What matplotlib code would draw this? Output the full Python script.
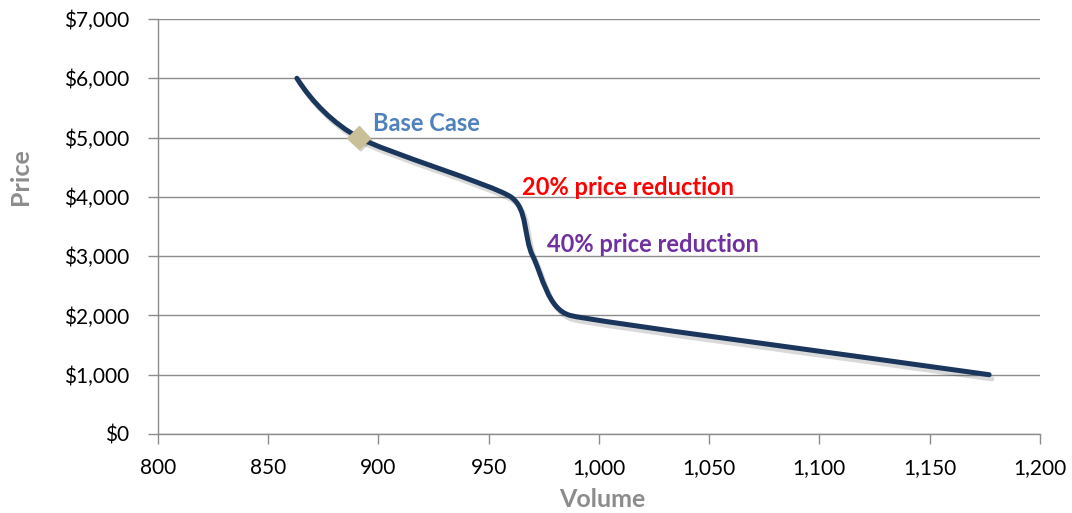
import matplotlib
matplotlib.use("Agg")
import matplotlib.pyplot as plt
import matplotlib.patheffects as pe
from matplotlib.path import Path
from matplotlib.patches import PathPatch
from matplotlib.ticker import FuncFormatter
import numpy as np

volume = [863, 891, 960, 970, 987, 1177]
price = [6000, 5000, 4000, 3000, 2000, 1000]
base_case = (891, 5000)
x_ticks = [800, 850, 900, 950, 1000, 1050, 1100, 1150, 1200]
y_ticks = [0, 1000, 2000, 3000, 4000, 5000, 6000, 7000]

plt.rcParams['font.family'] = ['Lato', 'DejaVu Sans']

fig = plt.figure(figsize=(10.72, 5.13), dpi=100)
ax = fig.add_axes([0.1474, 0.154, 0.8226, 0.809])

ax.set_xlim(800, 1200)
ax.set_ylim(0, 7000)
ax.set_xticks(x_ticks)
ax.set_yticks(y_ticks)
ax.xaxis.set_major_formatter(FuncFormatter(lambda v, p: f"{int(v):,}"))
ax.yaxis.set_major_formatter(FuncFormatter(lambda v, p: f"${int(v):,}"))
ax.grid(axis='y', color='#8c8c8c', linewidth=1.0)
ax.set_axisbelow(True)
for s in ['top', 'right']:
    ax.spines[s].set_visible(False)
for s in ['left', 'bottom']:
    ax.spines[s].set_color('#8c8c8c')
    ax.spines[s].set_linewidth(1.0)
ax.tick_params(axis='both', colors='#8c8c8c', length=7, width=1.0,
               labelcolor='black', labelsize=15)
ax.tick_params(axis='y', pad=14)
ax.tick_params(axis='x', pad=10)

# Smoothed line (Excel-like smoothing, computed in display-scaled space)
sx, sy = 2.205, 0.0593
P = np.column_stack([np.array(volume) * sx, np.array(price) * sy]).astype(float)
n = len(P)
seg = [np.linalg.norm(P[i + 1] - P[i]) for i in range(n - 1)]

def unit(v):
    return v / np.linalg.norm(v)

D = [None] * n
M = [0.0] * n
for i in range(1, n - 1):
    D[i] = unit(P[i + 1] - P[i - 1])
    M[i] = min(seg[i - 1], seg[i]) / 3.0
D[0] = unit(2 * unit(P[1] - P[0]) - D[1])
M[0] = seg[0] / 3.0
D[-1] = unit(P[-1] - P[-2])
M[-1] = seg[-1] / 3.0

verts = [tuple(P[0])]
codes = [Path.MOVETO]
for i in range(n - 1):
    L = seg[i]
    c1 = P[i] + D[i] * min(M[i], L / 2.0)
    c2 = P[i + 1] - D[i + 1] * min(M[i + 1], L / 2.0)
    verts += [tuple(c1), tuple(c2), tuple(P[i + 1])]
    codes += [Path.CURVE4] * 3
verts = [(vx / sx, vy / sy) for vx, vy in verts]
path = Path(verts, codes)
patch = PathPatch(path, facecolor='none', edgecolor='#1a365d', linewidth=3.6,
                  capstyle='round', joinstyle='round', zorder=3,
                  path_effects=[pe.SimpleLineShadow(offset=(2, -3), alpha=0.15, shadow_color='black'),
                                pe.Normal()])
ax.add_patch(patch)

ax.plot([base_case[0]], [base_case[1]], marker='D', markersize=12,
        color='#c9bf98', markeredgecolor='#c9bf98', zorder=4, linestyle='none',
        path_effects=[pe.SimplePatchShadow(offset=(2, -2), alpha=0.2), pe.Normal()])

ax.text(897.5, 5245, "Base Case", color='#4f81bd', fontsize=17, fontweight='bold',
        ha='left', va='center')
ax.text(965, 4166, "20% price reduction", color='#ff0000', fontsize=17,
        fontweight='bold', ha='left', va='center')
ax.text(976.4, 3188, "40% price reduction", color='#7030a0', fontsize=17,
        fontweight='bold', ha='left', va='center')

ax.set_xlabel("Volume", color='#8c8c8c', fontsize=18, fontweight='bold')
ax.set_ylabel("Price", color='#8c8c8c', fontsize=18, fontweight='bold')
ax.xaxis.set_label_coords(0.504, -0.159)
ax.yaxis.set_label_coords(-0.156, 0.62)
ax.xaxis.label.set_va('center')
ax.yaxis.label.set_va('center')

fig.savefig("out.png", dpi=100)
